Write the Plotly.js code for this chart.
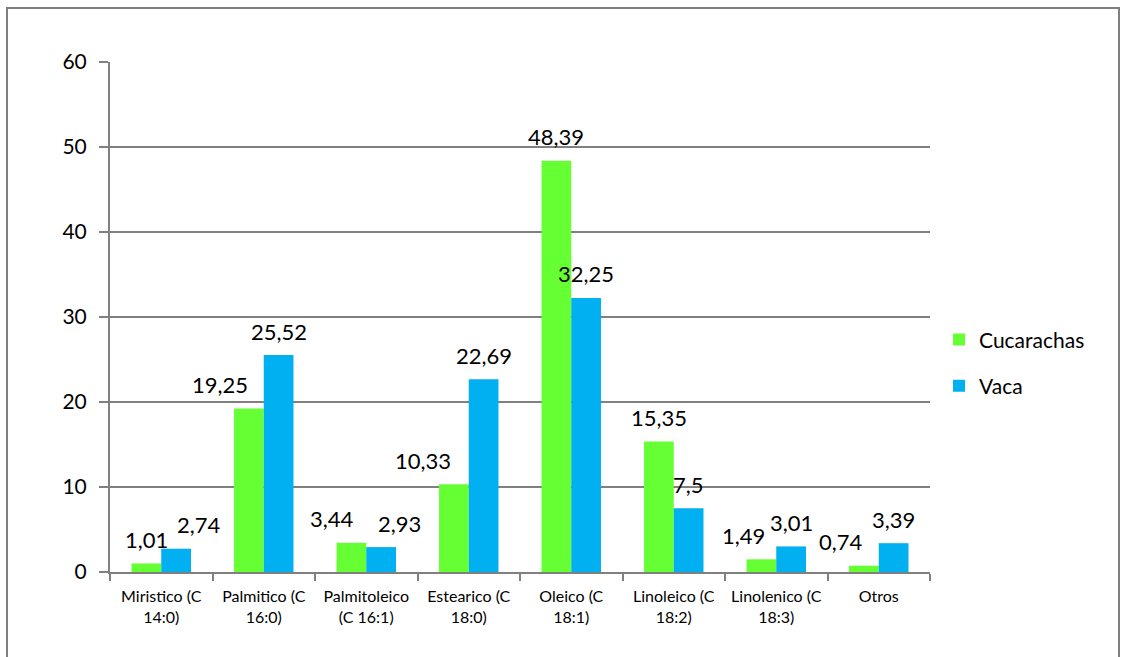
<!DOCTYPE html>
<html>
<head>
<meta charset="utf-8">
<script src="https://cdn.plot.ly/plotly-3.0.1.min.js"></script>
<style>
  html, body { margin: 0; padding: 0; background: #fff; }
  #wrap { position: relative; width: 1129px; height: 657px; overflow: hidden; }
  #chart { width: 1129px; height: 657px; }
  #frame { position: absolute; left: 6px; top: 7px; width: 1114px; height: 700px;
           border: 2px solid #7f7f7f; pointer-events: none; box-sizing: border-box; }
</style>
</head>
<body>
<div id="wrap">
  <div id="chart"></div>
  <div id="frame"></div>
</div>
<script>
const categories = [
  "Miristico (C<br>14:0)",
  "Palmitico (C<br>16:0)",
  "Palmitoleico<br>(C 16:1)",
  "Estearico (C<br>18:0)",
  "Oleico (C<br>18:1)",
  "Linoleico (C<br>18:2)",
  "Linolenico (C<br>18:3)",
  "Otros"
];
const cucarachas = [1.01, 19.25, 3.44, 10.33, 48.39, 15.35, 1.49, 0.74];
const vaca = [2.74, 25.52, 2.93, 22.69, 32.25, 7.5, 3.01, 3.39];
const yTicks = [0, 10, 20, 30, 40, 50, 60];

// label horizontal nudges (px), Excel-style label placement
const cucShift = [0, -29, -19, -31, 0, 0, -18, -23];
const vacaShift = [23, 0, 18, 0, 0, 0, 0, 0];

const fmt = v => String(v).replace('.', ',');
const FONT = 'Lato, "Open Sans", sans-serif';

const traces = [
  { type: 'bar', name: 'Cucarachas', x: categories, y: cucarachas,
    marker: { color: '#66FF33' }, legendgroup: 'a', hoverinfo: 'none' },
  { type: 'bar', name: 'Vaca', x: categories, y: vaca,
    marker: { color: '#00B0F0' }, legendgroup: 'b', hoverinfo: 'none' }
];

const annotations = [];
categories.forEach((c, i) => {
  annotations.push({ x: c, y: cucarachas[i], text: fmt(cucarachas[i]), showarrow: false,
    xref: 'x', yref: 'y', yanchor: 'middle', yshift: 24, xshift: -15 + cucShift[i],
    font: { family: FONT, size: 22, color: '#000' } });
  annotations.push({ x: c, y: vaca[i], text: fmt(vaca[i]), showarrow: false,
    xref: 'x', yref: 'y', yanchor: 'middle', yshift: 24, xshift: 15 + vacaShift[i],
    font: { family: FONT, size: 22, color: '#000' } });
});

const layout = {
  width: 1129, height: 657,
  margin: { l: 110, r: 199, t: 62, b: 85 },
  paper_bgcolor: '#fff', plot_bgcolor: '#fff',
  barmode: 'group', bargap: 0.42, bargroupgap: 0,
  font: { family: FONT, color: '#000' },
  showlegend: true,
  legend: { x: 1.011, xanchor: 'left', y: 0.41, yanchor: 'middle',
            font: { family: FONT, size: 21, color: '#000' },
            tracegroupgap: 16, itemwidth: 30, bgcolor: 'rgba(0,0,0,0)' },
  xaxis: {
    type: 'category', showline: true, linecolor: '#808080', linewidth: 2,
    ticks: 'outside', tickson: 'boundaries', ticklen: 7, tickcolor: '#808080', tickwidth: 2,
    tickfont: { family: FONT, size: 16, color: '#000' }, ticklabelstandoff: 9,
    showgrid: false, fixedrange: true
  },
  yaxis: {
    range: [0, 60], tickvals: yTicks, ticktext: yTicks.map(String),
    showline: true, linecolor: '#808080', linewidth: 2,
    ticks: 'outside', ticklen: 9, tickcolor: '#808080', tickwidth: 2,
    showgrid: true, gridcolor: '#808080', gridwidth: 1.5, zeroline: false,
    tickfont: { family: FONT, size: 21, color: '#000' }, ticklabelstandoff: 8, fixedrange: true
  },
  annotations: annotations
};

Plotly.newPlot('chart', traces, layout, { displayModeBar: false, staticPlot: true });
</script>
</body>
</html>
